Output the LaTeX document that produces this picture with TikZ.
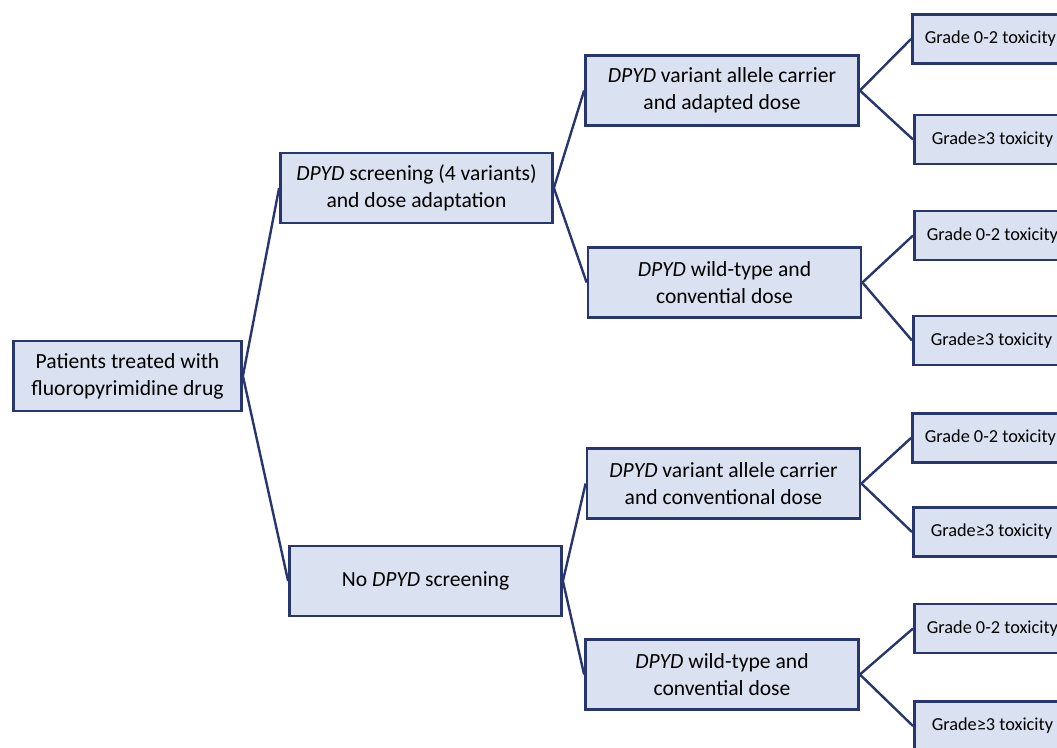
\documentclass[tikz,border=0pt]{standalone}
\usepackage{fontspec}
\setmainfont{Carlito}
\definecolor{navy}{RGB}{40,54,112}
\definecolor{boxfill}{RGB}{218,225,240}
\begin{document}
\begin{tikzpicture}[x=1pt,y=-1pt,
  box/.style={draw=navy, line width=2.8pt, fill=boxfill, align=center, inner sep=0pt,
    font=\fontsize{21.6}{27}\selectfont},
  leaf/.style={box, font=\fontsize{18.3}{21}\selectfont, minimum width=156pt, minimum height=49pt, anchor=west},
  conn/.style={draw=navy, line width=2.4pt}]
\useasboundingbox (0,0) rectangle (1057,747);
\clip (0,0) rectangle (1057,747);
\node[box, minimum width=228pt, minimum height=70pt] (root) at (127.5,376) {Patients treated with\\fluoropyrimidine drug};
\node[box, minimum width=272pt, minimum height=70pt] (A) at (416.5,188) {\textit{DPYD} screening (4 variants)\\and dose adaptation};
\node[box, minimum width=272pt, minimum height=70pt] (B) at (425.5,581) {No \textit{DPYD} screening};
\node[box, minimum width=273pt, minimum height=70pt] (A1) at (722,90.5) {\textit{DPYD} variant allele carrier\\and adapted dose};
\node[box, minimum width=273pt, minimum height=70pt] (A2) at (724.5,282.5) {\textit{DPYD} wild-type and\\convential dose};
\node[box, minimum width=273pt, minimum height=70pt] (B1) at (723.5,483.5) {\textit{DPYD} variant allele carrier\\and conventional dose};
\node[box, minimum width=273pt, minimum height=70pt] (B2) at (722,674.5) {\textit{DPYD} wild-type and\\convential dose};
\node[leaf] (L1) at (911,39) {Grade 0-2 toxicity};
\node[leaf] (L2) at (913,139.5) {Grade≥3 toxicity};
\node[leaf] (L3) at (913,235.5) {Grade 0-2 toxicity};
\node[leaf] (L4) at (912,340.5) {Grade≥3 toxicity};
\node[leaf] (L5) at (911,438) {Grade 0-2 toxicity};
\node[leaf] (L6) at (912,532) {Grade≥3 toxicity};
\node[leaf] (L7) at (913,628.5) {Grade 0-2 toxicity};
\node[leaf] (L8) at (913,726) {Grade≥3 toxicity};
\draw[conn] (root.east) -- (A.west);
\draw[conn] (root.east) -- (B.west);
\draw[conn] (A.east) -- (A1.west);
\draw[conn] (A.east) -- (A2.west);
\draw[conn] (B.east) -- (B1.west);
\draw[conn] (B.east) -- (B2.west);
\draw[conn] (A1.east) -- (L1.west);
\draw[conn] (A1.east) -- (L2.west);
\draw[conn] (A2.east) -- (L3.west);
\draw[conn] (A2.east) -- (L4.west);
\draw[conn] (B1.east) -- (L5.west);
\draw[conn] (B1.east) -- (L6.west);
\draw[conn] (B2.east) -- (L7.west);
\draw[conn] (B2.east) -- (L8.west);
\end{tikzpicture}
\end{document}
